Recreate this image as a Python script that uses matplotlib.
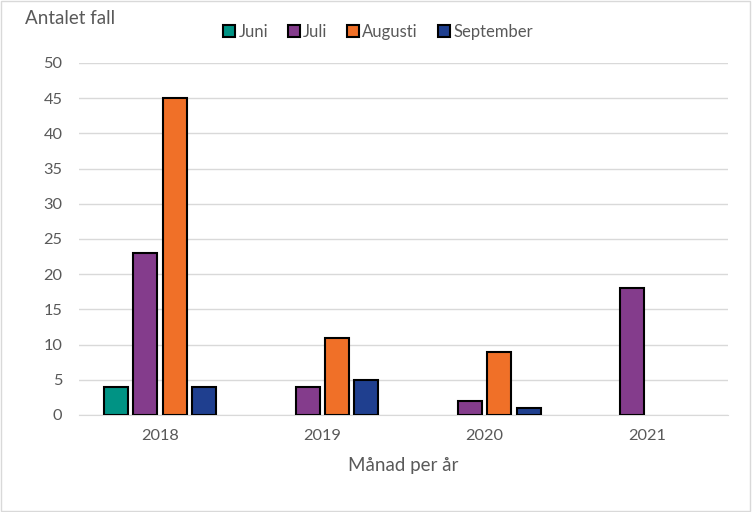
import matplotlib
matplotlib.use("Agg")
import matplotlib.pyplot as plt
from matplotlib.patches import Rectangle
import numpy as np

plt.rcParams['font.family'] = ['Lato', 'DejaVu Sans']

years = ['2018', '2019', '2020', '2021']
series = ['Juni', 'Juli', 'Augusti', 'September']
juni = [4, 0, 0, 0]
juli = [23, 4, 2, 18]
augusti = [45, 11, 9, 0]
september = [4, 5, 1, 0]
values = [juni, juli, augusti, september]
colors = ['#009384', '#843C8C', '#F07028', '#1F3F8F']

txt = '#595959'
grid = '#D9D9D9'

fig = plt.figure(figsize=(7.52, 5.12), dpi=100)
fig.patches.append(Rectangle((0.001, 0.001), 0.997, 0.997, transform=fig.transFigure,
                             fill=False, edgecolor='#D9D9D9', linewidth=1))
ax = fig.add_axes([79/752, 1 - 415/512, 649/752, (415 - 63)/512])

x = np.arange(len(years))
step = 0.181
width = 0.148
for i, (name, vals, c) in enumerate(zip(series, values, colors)):
    pos = x + (i - 1.5) * step
    hv = [v if v > 0 else np.nan for v in vals]
    ax.bar(pos, hv, width=width, color=c, edgecolor='black', linewidth=1.5, label=name, zorder=3)

ax.set_xlim(-0.5, 3.5)
ax.set_ylim(0, 50)
ax.set_yticks(range(0, 51, 5))
ax.set_xticks(x)
ax.set_xticklabels(years)
ax.yaxis.grid(True, color=grid, linewidth=1, zorder=0)
ax.set_axisbelow(True)
for s in ['top', 'right', 'left']:
    ax.spines[s].set_visible(False)
ax.spines['bottom'].set_color(grid)
ax.tick_params(axis='both', length=0, colors=txt, labelsize=11.8)
ax.tick_params(axis='y', pad=12)
ax.tick_params(axis='x', pad=10)
ax.set_xlabel('Månad per år', color=txt, fontsize=13.5, labelpad=10)

fig.text(25/752, 1 - 18/512, 'Antalet fall', color=txt, fontsize=13.5, va='center', ha='left')

leg = ax.legend(loc='center', bbox_to_anchor=(378/752, 1 - 32/512), bbox_transform=fig.transFigure,
                ncol=4, frameon=False, fontsize=12, handlelength=0.7, handleheight=0.7,
                handletextpad=0.2, columnspacing=1.2)
for t in leg.get_texts():
    t.set_color(txt)

fig.savefig('out.png', dpi=100)
